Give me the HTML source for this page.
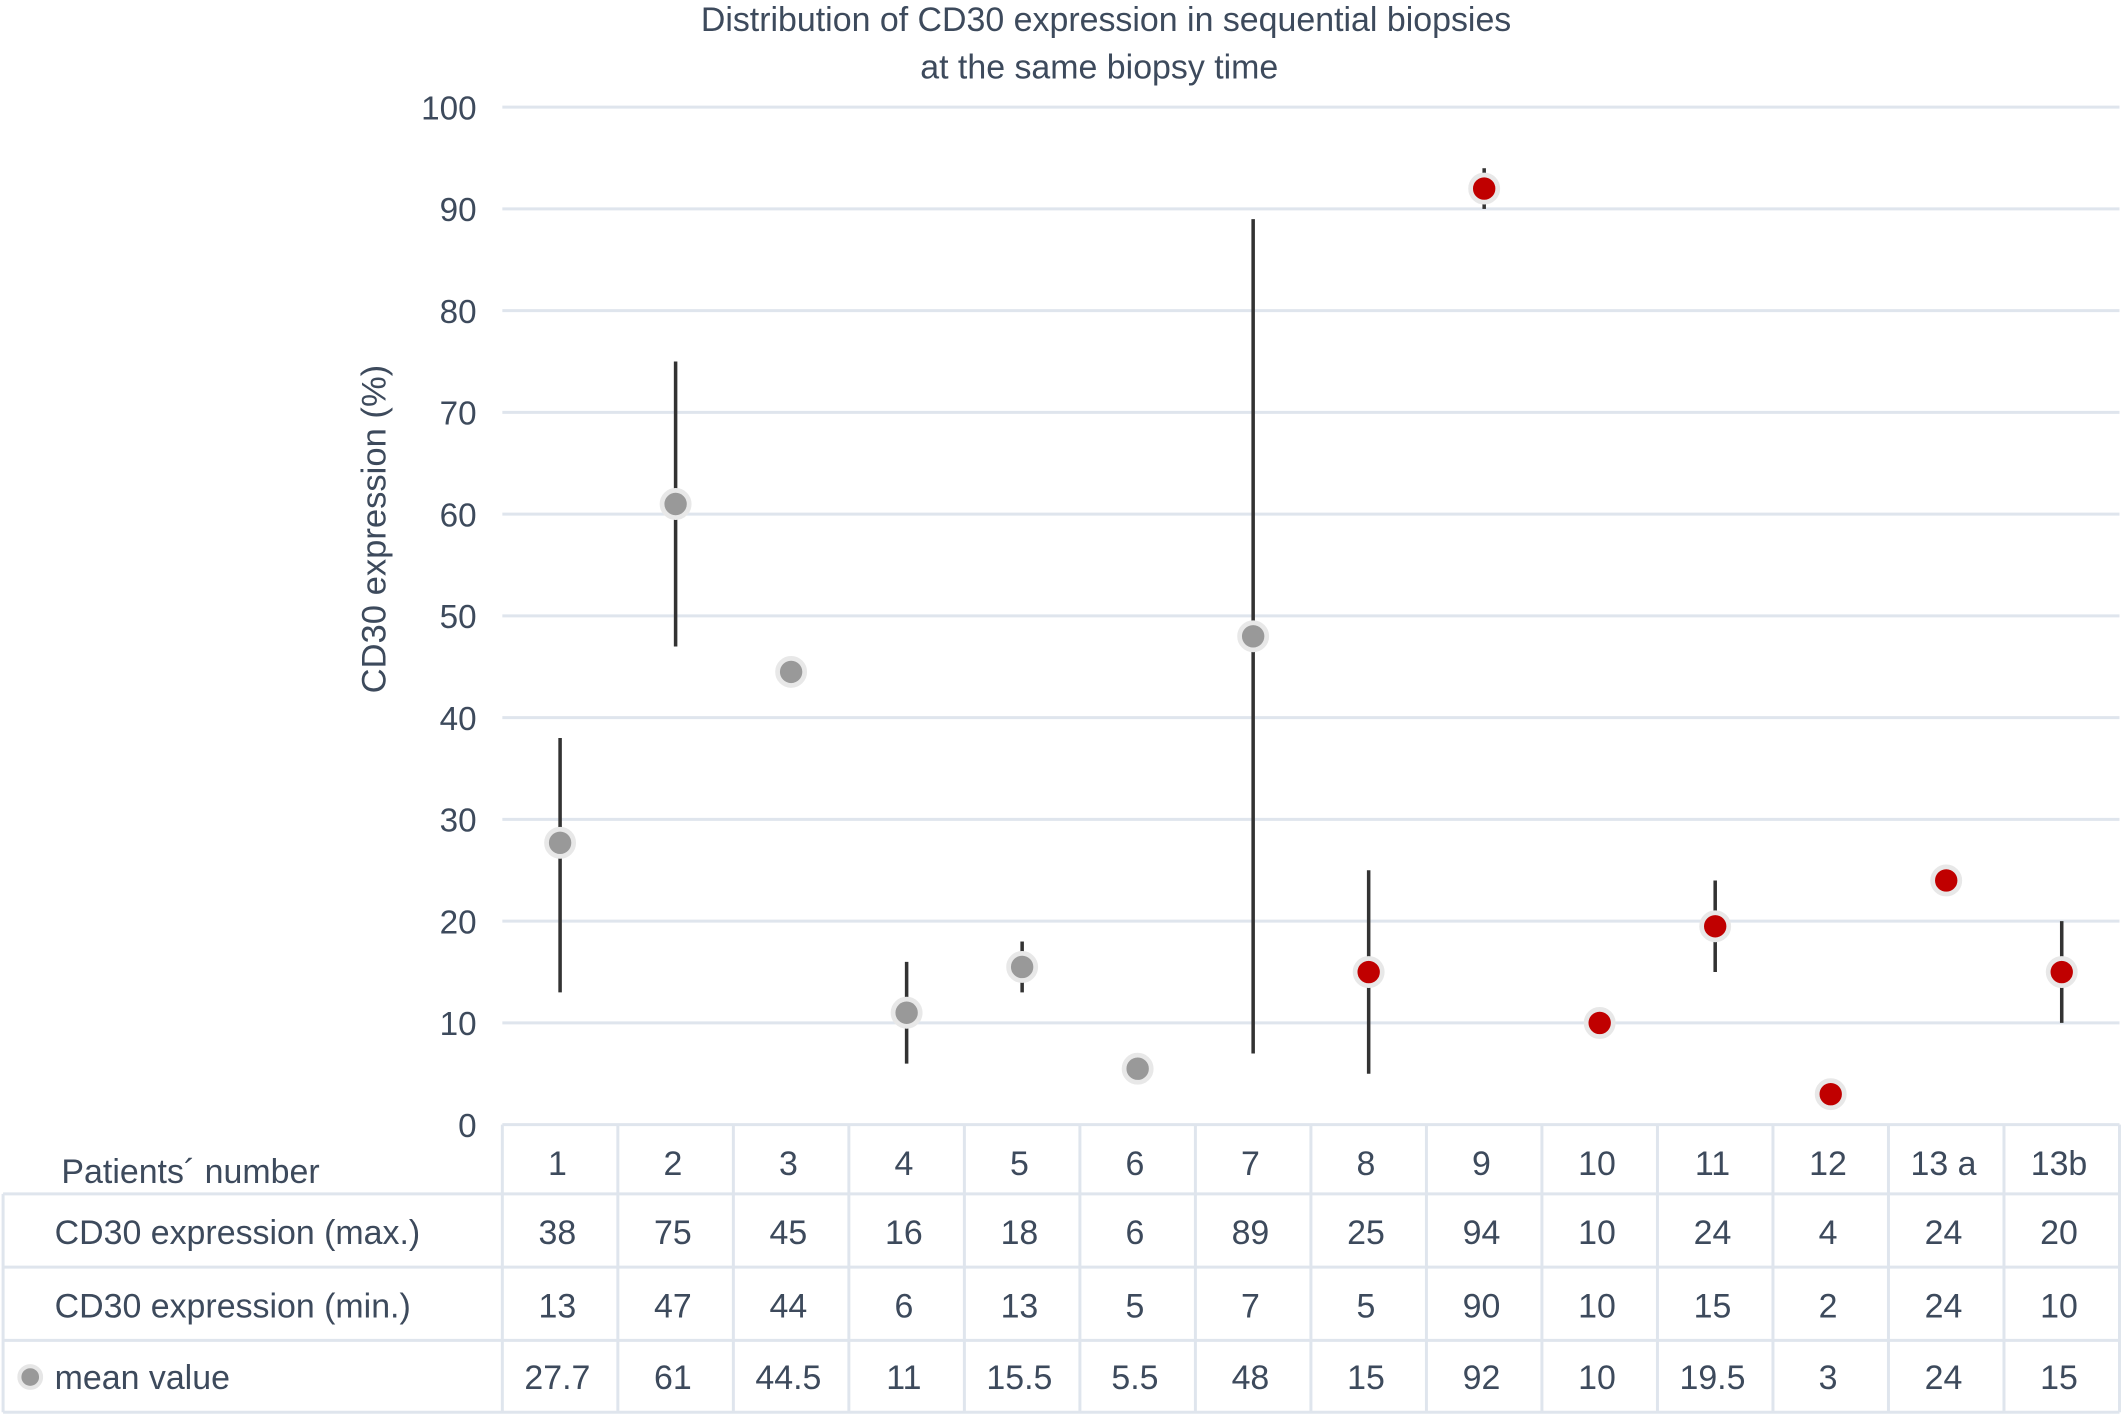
<!DOCTYPE html>
<html><head><meta charset="utf-8"><style>
html,body{margin:0;padding:0;background:#fff;}
svg{display:block;font-family:"Liberation Sans",sans-serif;}
</style></head><body>
<svg id="chart" xmlns="http://www.w3.org/2000/svg" width="2128" height="1415" viewBox="0 0 1568 1043">
<g id="title" fill="#3d4a5c" font-size="25" text-anchor="middle">
<text x="815" y="23">Distribution of CD30 expression in sequential biopsies</text>
<text x="810" y="58">at the same biopsy time</text>
</g>
<text transform="translate(284,390) rotate(-90)" text-anchor="middle" fill="#3d4a5c" font-size="25.5">CD30 expression (%)</text>
<g id="grid"></g><g id="yticks"></g><g id="table"></g><g id="marks"></g>
</svg>
<script>
const categories = ["1","2","3","4","5","6","7","8","9","10","11","12","13 a","13b"];
const maxVals = [38,75,45,16,18,6,89,25,94,10,24,4,24,20];
const minVals = [13,47,44,6,13,5,7,5,90,10,15,2,24,10];
const meanVals = [27.7,61,44.5,11,15.5,5.5,48,15,92,10,19.5,3,24,15];
const meanLabels = ["27.7","61","44.5","11","15.5","5.5","48","15","92","10","19.5","3","24","15"];
const redFlags = [0,0,0,0,0,0,0,1,1,1,1,1,1,1];
const yTicks = [0,10,20,30,40,50,60,70,80,90,100];

const NS="http://www.w3.org/2000/svg";
const x0=370,x1=1562,yTop=79,yBot=829;
const colW=(x1-x0)/categories.length;
function xPos(i){return x0+colW*(i+0.5);}
function yPos(v){return yBot-(v/100)*(yBot-yTop);}
function mk(tag,attrs,parent,text){const e=document.createElementNS(NS,tag);for(const k in attrs)e.setAttribute(k,attrs[k]);if(text!==undefined)e.textContent=text;parent.appendChild(e);return e;}
const grid=document.getElementById('grid'),yt=document.getElementById('yticks'),tb=document.getElementById('table'),marks=document.getElementById('marks');
const TXT="#3d4a5c",LINE="#dfe5ed",FS=25;
yTicks.forEach(v=>{
  if(v>0){const l=mk('line',{x1:x0,x2:x1,y1:yPos(v),y2:yPos(v),stroke:LINE,'stroke-width':2.2},grid);
  
  }
  const t=mk('text',{x:351,y:yPos(v)+9,'text-anchor':'end','font-size':24.5,fill:TXT},yt,String(v));
  
  
});
const rows=[829,880,934,988,1041];
const lines=[];
rows.forEach((y,r)=>{lines.push([r===0?x0:2,y,x1,y]);});
lines.push([2,880,2,1041]);
for(let i=0;i<=categories.length;i++){lines.push([x0+colW*i,829,x0+colW*i,1041]);}
lines.forEach(a=>{const l=mk('line',{x1:a[0],y1:a[1],x2:a[2],y2:a[3],stroke:LINE,'stroke-width':2.2},tb);

});
const labels=[["Patients´ number",45,872],["CD30 expression (max.)",40,917],["CD30 expression (min.)",40,971],["mean value",40,1024]];
labels.forEach((a,i)=>{const t=mk('text',{x:a[1],y:a[2],'font-size':FS,fill:TXT},tb,a[0]);

});
const lg=mk('circle',{cx:22,cy:1015,r:8,fill:'#999',stroke:'#e6e6e6','stroke-width':3},tb);


const rowData=[categories,maxVals.map(String),minVals.map(String),meanLabels];
const rowY=[866,917,971,1024];
rowData.forEach((arr,r)=>arr.forEach((v,i)=>{const t=mk('text',{x:xPos(i)-2,y:rowY[r],'text-anchor':'middle','font-size':FS,fill:TXT},tb,v);

}));
categories.forEach((c,i)=>{
  if(maxVals[i]!==minVals[i]){const l=mk('line',{x1:xPos(i),x2:xPos(i),y1:yPos(maxVals[i]),y2:yPos(minVals[i]),stroke:'#333','stroke-width':2.6},marks);
  
  }
  const p=mk('circle',{cx:xPos(i),cy:yPos(meanVals[i]),r:10,fill:redFlags[i]?'#c00000':'#999',stroke:'#e8e8e8','stroke-width':3.5},marks);
  
  
});
</script>
</body></html>
